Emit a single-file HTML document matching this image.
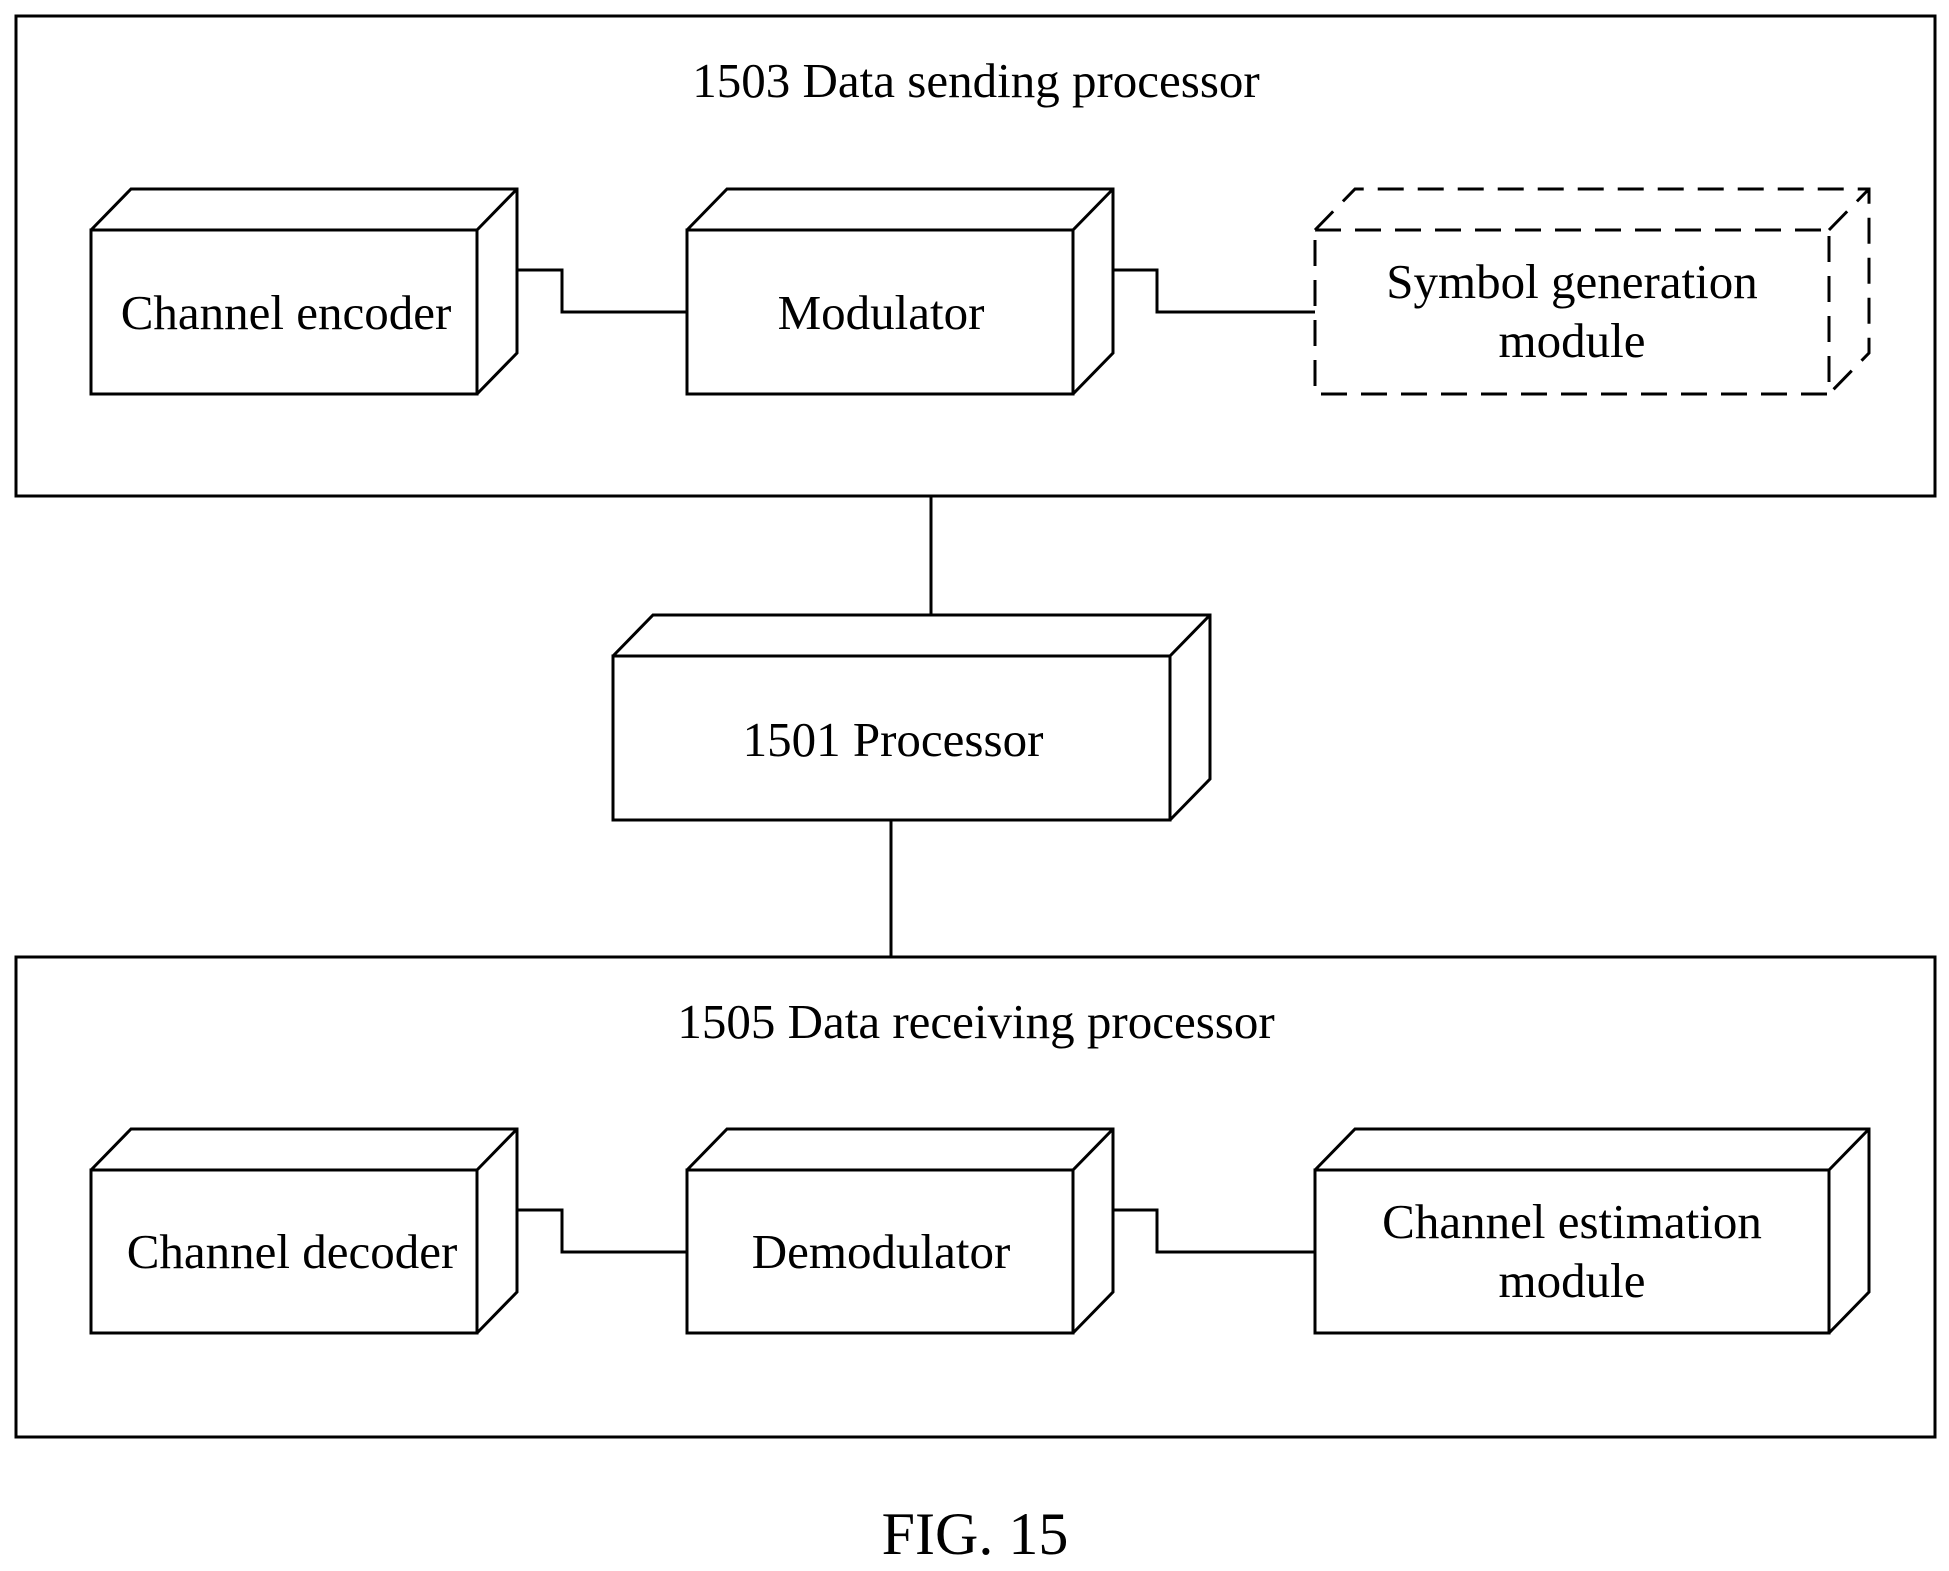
<!DOCTYPE html>
<html><head><meta charset="utf-8"><style>html,body{margin:0;padding:0;background:#fff}svg{display:block}</style></head>
<body>
<svg width="1949" height="1571" viewBox="0 0 1949 1571" xmlns="http://www.w3.org/2000/svg" font-family="Liberation Serif, serif" font-size="49" text-anchor="middle" fill="none" stroke="#000" stroke-width="3">
<rect x="16" y="16" width="1919" height="480"/>
<rect x="16" y="957" width="1919" height="480"/>
<g fill="#000" stroke="none">
<text x="976" y="97">1503 Data sending processor</text>
<text x="976" y="1038">1505 Data receiving processor</text>
<text x="975" y="1554" font-size="60">FIG. 15</text>
</g>
<path d="M91 230 H477 V394 H91 Z M91 230 L131 189 H517 V353 L477 394 M477 230 L517 189"/>
<path d="M687 230 H1073 V394 H687 Z M687 230 L727 189 H1113 V353 L1073 394 M1073 230 L1113 189"/>
<path stroke-dasharray="26 14" d="M1315 230 H1829 V394 H1315 Z M1315 230 L1355 189 H1869 V353 L1829 394 M1829 230 L1869 189"/>
<path d="M517 270 H562 V312 H687 M1113 270 H1157 V312 H1315"/>
<path d="M91 1170 H477 V1333 H91 Z M91 1170 L131 1129 H517 V1292 L477 1333 M477 1170 L517 1129"/>
<path d="M687 1170 H1073 V1333 H687 Z M687 1170 L727 1129 H1113 V1292 L1073 1333 M1073 1170 L1113 1129"/>
<path d="M1315 1170 H1829 V1333 H1315 Z M1315 1170 L1355 1129 H1869 V1292 L1829 1333 M1829 1170 L1869 1129"/>
<path d="M517 1210 H562 V1252 H687 M1113 1210 H1157 V1252 H1315"/>
<path d="M613 656 H1170 V820 H613 Z M613 656 L653 615 H1210 V779 L1170 820 M1170 656 L1210 615"/>
<path d="M931 496 V615 M891 820 V957"/>
<g fill="#000" stroke="none">
<text x="286" y="329">Channel encoder</text>
<text x="881" y="329">Modulator</text>
<text x="1572" y="298">Symbol generation</text>
<text x="1572" y="357">module</text>
<text x="893" y="756">1501 Processor</text>
<text x="292" y="1268">Channel decoder</text>
<text x="881" y="1268">Demodulator</text>
<text x="1572" y="1238">Channel estimation</text>
<text x="1572" y="1297">module</text>
</g>
</svg>
</body></html>
